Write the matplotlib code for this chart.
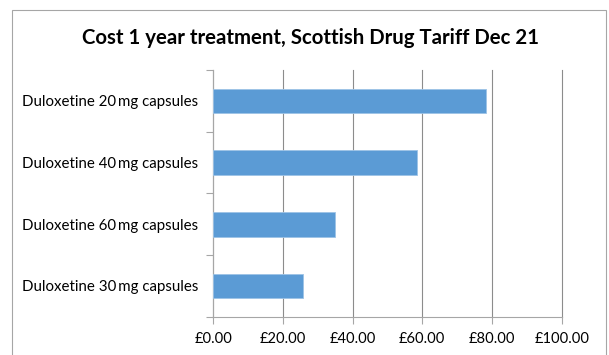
import matplotlib
matplotlib.use("Agg")
import matplotlib.pyplot as plt
from matplotlib.patches import Rectangle
from matplotlib.ticker import FixedLocator

categories = ["Duloxetine 20\u2009mg capsules", "Duloxetine 40\u2009mg capsules",
              "Duloxetine 60\u2009mg capsules", "Duloxetine 30\u2009mg capsules"]
values = [78.4, 58.4, 34.8, 25.7]
xticks = [0, 20, 40, 60, 80, 100]
xticklabels = ["£0.00", "£20.00", "£40.00", "£60.00", "£80.00", "£100.00"]
title = "Cost 1 year treatment, Scottish Drug Tariff Dec 21"

plt.rcParams['font.family'] = ['Lato', 'DejaVu Sans']

W, H = 609, 355
fig = plt.figure(figsize=(W / 100, H / 100), dpi=100)
ax = fig.add_axes([213.3 / W, 1 - 316.7 / H, (561.7 - 213.3) / W, (316.7 - 70) / H])

n = len(categories)
ypos = list(range(n - 1, -1, -1))
ax.barh(ypos, values, height=0.4, color="#5B9BD5", edgecolor="#9DC3E6", linewidth=0.6, zorder=3)

ax.set_xlim(0, 100)
ax.set_ylim(-0.5, n - 0.5)
ax.set_xticks(xticks)
ax.set_xticklabels(xticklabels, fontsize=10.6, color="#000000")
ax.set_yticks(ypos)
ax.set_yticklabels(categories, fontsize=10.8, color="#000000")
ax.tick_params(axis="y", which="major", length=0, pad=11)
ax.yaxis.set_minor_locator(FixedLocator([i - 0.5 for i in range(n + 1)]))
ax.tick_params(axis="y", which="minor", length=5, color="#A6A6A6", width=0.8)
ax.tick_params(axis="x", which="major", length=5, color="#A6A6A6", width=0.8, pad=6)

ax.grid(axis="x", color="#8C8C8C", linewidth=0.8, zorder=0)
for gl in ax.get_xgridlines():
    gl.set_clip_on(False)
for s in ["top", "right"]:
    ax.spines[s].set_visible(False)
for s in ["left", "bottom"]:
    ax.spines[s].set_color("#A6A6A6")
    ax.spines[s].set_linewidth(0.8)

fig.text(310 / W, 1 - 38 / H, title, ha="center", va="center", fontsize=14.7, fontweight="bold")

fig.patches.append(Rectangle((12 / W, -0.05), (605.7 - 12) / W, 1.05 - 10 / H,
                             transform=fig.transFigure, fill=False,
                             edgecolor="#A6A6A6", linewidth=0.8))

fig.savefig("out.png", dpi=100)
